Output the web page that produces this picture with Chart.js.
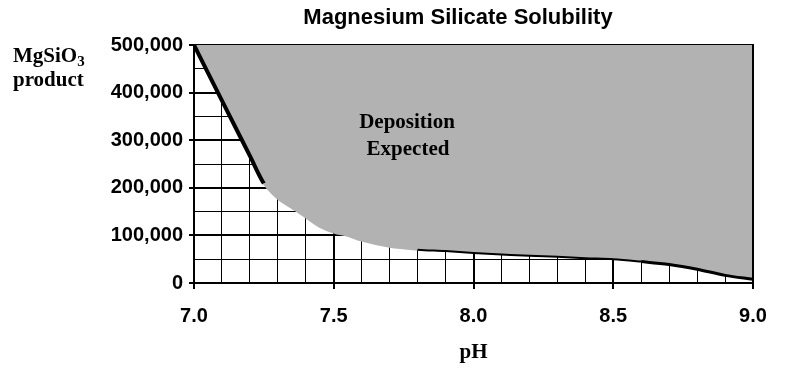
<!DOCTYPE html>
<html>
<head>
<meta charset="utf-8">
<script src="https://cdn.jsdelivr.net/npm/chart.js@4"></script>
<style>
  html, body { margin: 0; padding: 0; background: #fff; }
  #wrap { width: 803px; height: 374px; }
</style>
</head>
<body>
<div id="wrap"><canvas id="chart" width="803" height="374"></canvas></div>
<script>
// ─── Data ─────────────────────────────────────────────────────────
const phValues      = [7.0, 7.1, 7.2, 7.25, 7.3, 7.35, 7.4, 7.45, 7.5, 7.55, 7.6, 7.7, 7.8, 7.9, 8.0, 8.1, 8.2, 8.3, 8.4, 8.5, 8.6, 8.7, 8.8, 8.9, 9.0];
const productValues = [500000, 383000, 267000, 209000, 177000, 158000, 138000, 118000, 106000, 99000, 89000, 76000, 70000, 67000, 63000, 60000, 57000, 55000, 52000, 50000, 45000, 39000, 29000, 16000, 8000];
const xTicks = [7.0, 7.5, 8.0, 8.5, 9.0];
const yTicks = [0, 100000, 200000, 300000, 400000, 500000];

const GRAY = '#b2b2b2';
const SANS = "'Liberation Sans', Arial, sans-serif";
const SERIF = "'Liberation Serif', 'Times New Roman', serif";

const isMajorX = v => xTicks.some(t => Math.abs(t - v) < 1e-6);
const isMajorY = v => yTicks.includes(v);

// ─── Labels plugin (title, axis label, region text, right edge) ──
const labels = {
  id: 'labels',
  afterDatasetsDraw(chart) {
    const { ctx, chartArea: a } = chart;
    ctx.save();
    // right edge line
    ctx.strokeStyle = '#000';
    ctx.lineWidth = 2;
    ctx.beginPath();
    ctx.moveTo(a.right, a.top - 1);
    ctx.lineTo(a.right, a.bottom);
    ctx.stroke();

    ctx.fillStyle = '#000';
    ctx.textBaseline = 'alphabetic';

    ctx.font = `bold 22px ${SANS}`;
    ctx.textAlign = 'center';
    ctx.fillText('Magnesium Silicate Solubility', 458, 24);

    ctx.font = `bold 21px ${SERIF}`;
    ctx.fillText('Deposition', 407, 128);
    ctx.fillText('Expected', 408, 155);

    ctx.textAlign = 'left';
    ctx.fillText('MgSiO', 13, 62);
    const w = ctx.measureText('MgSiO').width;
    ctx.font = `bold 15px ${SERIF}`;
    ctx.fillText('3', 13 + w, 66);
    ctx.font = `bold 21px ${SERIF}`;
    ctx.fillText('product', 13, 86);
    ctx.restore();
  }
};

const points = phValues.map((x, i) => ({ x, y: productValues[i] }));

new Chart(document.getElementById('chart'), {
  type: 'line',
  data: {
    datasets: [
      {
        // boundary line
        data: points,
        fill: false,
        borderColor: '#000',
        borderWidth: 2,
        pointRadius: 0,
        cubicInterpolationMode: 'monotone',
        segment: {
          borderColor: c => (c.p0.parsed.x >= 7.25 && c.p1.parsed.x <= 7.8) ? GRAY : '#000',
          borderWidth: c => c.p0.parsed.x < 7.25 ? 4 : (c.p0.parsed.x >= 8.6 ? 3 : 2)
        }
      },
      {
        // "Deposition Expected" region
        data: points,
        fill: 'end',
        backgroundColor: GRAY,
        borderWidth: 0,
        pointRadius: 0,
        cubicInterpolationMode: 'monotone'
      }
    ]
  },
  options: {
    responsive: false,
    animation: false,
    layout: { padding: { top: 45, right: 50, left: 0, bottom: 0 } },
    plugins: { legend: { display: false }, tooltip: { enabled: false }, title: { display: false } },
    scales: {
      x: {
        type: 'linear',
        min: 7, max: 9,
        afterFit: s => { s.height = 91; },
        ticks: {
          stepSize: 0.1,
          autoSkip: false,
          maxRotation: 0,
          padding: 15,
          color: '#000',
          font: { family: SANS, size: 20, weight: 'bold' },
          callback: v => isMajorX(v) ? v.toFixed(1) : ''
        },
        grid: {
          color: '#000',
          lineWidth: c => isMajorX(c.tick.value) ? 2 : 1,
          tickLength: 6,
          tickColor: c => isMajorX(c.tick.value) ? '#000' : 'rgba(0,0,0,0)'
        },
        border: { color: '#000', width: 2 },
        title: {
          display: true,
          text: 'pH',
          color: '#000',
          font: { family: SERIF, size: 21, weight: 'bold' },
          padding: { top: 0, bottom: 9 }
        }
      },
      y: {
        min: 0, max: 500000,
        afterFit: s => { s.width = 194; },
        ticks: {
          stepSize: 50000,
          autoSkip: false,
          padding: 6,
          color: '#000',
          font: { family: SANS, size: 20, weight: 'bold' },
          callback: v => isMajorY(v) ? v.toLocaleString('en-US') : ''
        },
        grid: {
          color: '#000',
          lineWidth: c => isMajorY(c.tick.value) ? 2 : 1,
          tickLength: 5,
          tickColor: c => isMajorY(c.tick.value) ? '#000' : 'rgba(0,0,0,0)'
        },
        border: { color: '#000', width: 2 }
      }
    }
  },
  plugins: [labels]
});
</script>
</body>
</html>
